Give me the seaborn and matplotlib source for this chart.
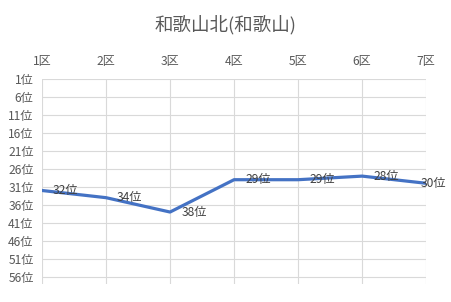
import matplotlib
matplotlib.use("Agg")
import matplotlib.pyplot as plt
import seaborn as sns
import pandas as pd

title = "和歌山北(和歌山)"
categories = ["1区", "2区", "3区", "4区", "5区", "6区", "7区"]
ranks = [32, 34, 38, 29, 29, 28, 30]
ytick_values = [1, 6, 11, 16, 21, 26, 31, 36, 41, 46, 51, 56]

sns.set_theme(style="white")
plt.rcParams['font.family'] = ['Noto Sans CJK JP', 'DejaVu Sans']

text_color = "#595959"
grid_color = "#D9D9D9"
line_color = "#4472C4"

fig = plt.figure(figsize=(4.51, 3.02), dpi=100)
ax = fig.add_axes([0.093, 0.06, 0.852, 0.678])

df = pd.DataFrame({"pos": list(range(len(categories))), "rank": ranks})
sns.lineplot(data=df, x="pos", y="rank", ax=ax, color=line_color, linewidth=2.3, zorder=3)

ax.set_xlim(0, len(categories) - 1)
ax.set_ylim(58, 1)
ax.set_xticks(range(len(categories)))
ax.set_xticklabels(categories)
ax.set_yticks(ytick_values)
ax.set_yticklabels([f"{v}位" for v in ytick_values])
ax.xaxis.tick_top()
ax.tick_params(axis="both", length=0, labelsize=8.7, colors=text_color)
ax.tick_params(axis="x", pad=8)
ax.tick_params(axis="y", pad=6)
ax.set_xlabel("")
ax.set_ylabel("")

ax.grid(True, color=grid_color, linewidth=0.8)
for s in ax.spines.values():
    s.set_visible(False)

for i, v in enumerate(ranks):
    dx = 8 if i < len(ranks) - 1 else -4
    ax.annotate(f"{v}位", (i, v), xytext=(dx, 0), textcoords="offset points",
                ha="left", va="center", fontsize=8.7, color="#404040", zorder=4,
                annotation_clip=False)

fig.text(0.5, 0.917, title, ha="center", va="center", fontsize=13.3, color=text_color)

fig.savefig("out.png", dpi=100)
